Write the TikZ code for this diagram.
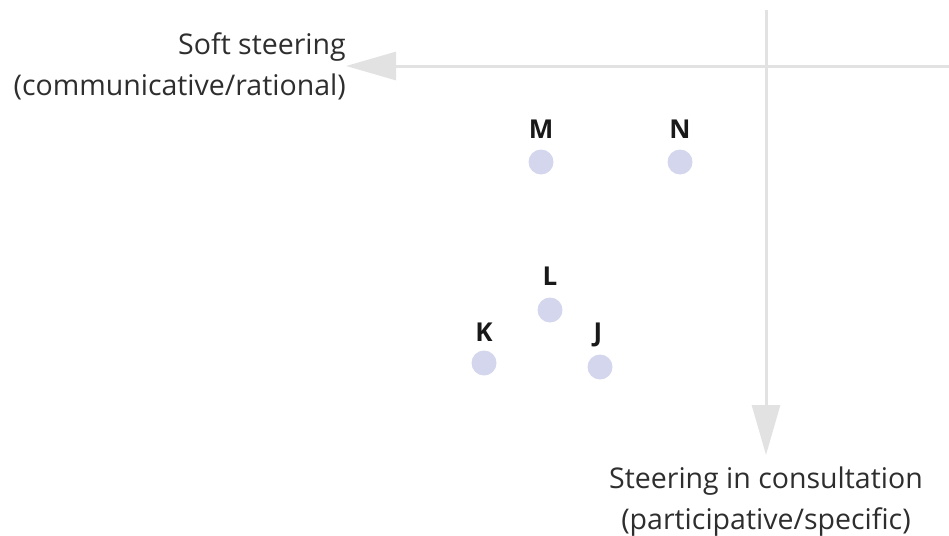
\documentclass[tikz,border=0pt]{standalone}
\usepackage{fontspec}
\setmainfont{Open Sans}
\usepackage{xcolor}
\usetikzlibrary{arrows.meta}
\definecolor{axisgray}{HTML}{E2E2E2}
\definecolor{dotblue}{HTML}{D4D6EE}
\definecolor{textgray}{HTML}{2E2E2E}

\begin{document}
\begin{tikzpicture}[x=1pt,y=-1pt,
  axis/.style={draw=axisgray, line width=3pt, -{Triangle[length=50pt,width=28pt]}},
  axislabel/.style={inner sep=0pt, text=textgray, font=\fontsize{28.5}{41}\selectfont},
  case/.style={circle, fill=dotblue, minimum size=25pt, inner sep=0pt},
  tag/.style={inner sep=0pt, text=black!90, font=\fontsize{26}{30}\selectfont\bfseries}]
\useasboundingbox (0,0) rectangle (949,535);

% axes and their labels
\coordinate (hstart) at (949,66);
\coordinate (vstart) at (766,10);
\node[axislabel, anchor=east, align=right] (soft) at (346,66) {Soft steering\\(communicative/rational)};
\node[axislabel, anchor=north, align=center, inner sep=12pt] (consult) at (766,455) {Steering in consultation\\(participative/specific)};
\draw[axis] (hstart) -- (soft.east);
\draw[axis] (vstart) -- (consult.north);

% cases
\node[case] (m) at (541,162) {};
\node[case] (n) at (680,162) {};
\node[case] (l) at (550,310) {};
\node[case] (k) at (484,363) {};
\node[case] (j) at (600,367) {};
\node[tag] (mlab) at (541,129) {M};
\node[tag] (nlab) at (680,129) {N};
\node[tag] (llab) at (550,276) {L};
\node[tag] (klab) at (484,332) {K};
\node[tag] (jlab) at (598,335) {J};
\end{tikzpicture}
\end{document}
